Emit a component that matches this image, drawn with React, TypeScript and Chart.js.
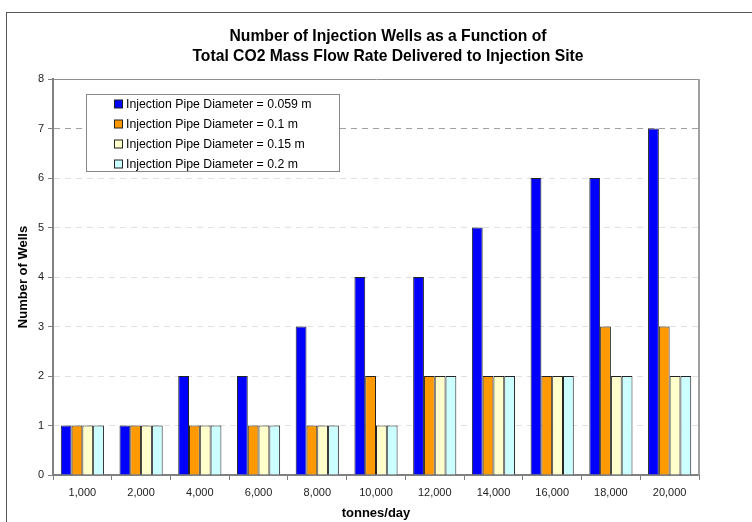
import React, { useEffect, useRef } from "react";
import { Chart, registerables } from "chart.js";

Chart.register(...registerables);

const categories = ["1,000", "2,000", "4,000", "6,000", "8,000", "10,000", "12,000", "14,000", "16,000", "18,000", "20,000"];
const seriesLabels = [
  "Injection Pipe Diameter = 0.059 m",
  "Injection Pipe Diameter = 0.1 m",
  "Injection Pipe Diameter = 0.15 m",
  "Injection Pipe Diameter = 0.2 m",
];
const d059 = [1, 1, 2, 2, 3, 4, 4, 5, 6, 6, 7];
const d010 = [1, 1, 1, 1, 1, 2, 2, 2, 2, 3, 3];
const d015 = [1, 1, 1, 1, 1, 1, 2, 2, 2, 2, 2];
const d020 = [1, 1, 1, 1, 1, 1, 2, 2, 2, 2, 2];
const seriesColors = ["#0000FF", "#FF9900", "#FFFFCC", "#CCFFFF"];
const titleLines = ["Number of Injection Wells as a Function of", "Total CO2 Mass Flow Rate Delivered to Injection Site"];
const yTitle = "Number of Wells";
const xTitle = "tonnes/day";

const FONT = "'Liberation Sans', Arial, sans-serif";

const framePlugin = {
  id: "frame",
  beforeDraw(chart: any) {
    const ctx = chart.ctx;
    ctx.save();
    ctx.strokeStyle = "#555";
    ctx.lineWidth = 1;
    ctx.strokeRect(6.5, 12.5, 900, 700);
    ctx.restore();
  },
  afterDraw(chart: any) {
    const { ctx, chartArea } = chart;
    ctx.save();
    // right border of plot area
    ctx.strokeStyle = "#A0A0A0";
    ctx.lineWidth = 2;
    ctx.beginPath();
    ctx.moveTo(chartArea.right, chartArea.top);
    ctx.lineTo(chartArea.right, chartArea.bottom);
    ctx.stroke();
    // legend box
    const lx = chartArea.left + 33.5;
    const ly = chartArea.top + 15.5;
    const lw = 253;
    const lh = 77;
    ctx.fillStyle = "#fff";
    ctx.fillRect(lx, ly, lw, lh);
    ctx.strokeStyle = "#888";
    ctx.lineWidth = 1;
    ctx.strokeRect(lx, ly, lw, lh);
    ctx.font = `12.3px ${FONT}`;
    ctx.textBaseline = "middle";
    ctx.textAlign = "left";
    chart.data.datasets.forEach((ds: any, i: number) => {
      const cy = chartArea.top + 25 + i * 20;
      ctx.fillStyle = ds.backgroundColor;
      ctx.fillRect(lx + 28, cy - 4, 8, 8);
      ctx.strokeStyle = "#222";
      ctx.strokeRect(lx + 28, cy - 4, 8, 8);
      ctx.fillStyle = "#000";
      ctx.fillText(ds.label, lx + 39.5, cy + 0.5);
    });
    ctx.restore();
  },
};

export default function App() {
  const ref = useRef<HTMLCanvasElement | null>(null);
  useEffect(() => {
    if (!ref.current) return;
    const data = [d059, d010, d015, d020];
    const chart = new Chart(ref.current, {
      type: "bar",
      data: {
        labels: categories,
        datasets: data.map((vals, i) => ({
          label: seriesLabels[i],
          data: vals,
          backgroundColor: seriesColors[i],
          borderColor: "#222",
          borderWidth: 1,
          categoryPercentage: 0.735,
          barPercentage: 1.0,
        })),
      },
      plugins: [framePlugin],
      options: {
        responsive: false,
        animation: false,
        devicePixelRatio: 1,
        layout: { padding: { left: 24, right: 0, top: 0, bottom: 0 } },
        plugins: {
          legend: { display: false },
          tooltip: { enabled: false },
          title: {
            display: true,
            text: titleLines,
            color: "#000",
            font: { family: FONT, size: 15.7, weight: "bold", lineHeight: "20px" },
            padding: { top: 27, bottom: 12 },
          },
        },
        scales: {
          x: {
            ticks: { color: "#222", font: { family: FONT, size: 11 }, padding: 6, maxRotation: 0 },
            grid: { display: true, drawOnChartArea: false, offset: true, tickLength: 5, tickColor: "#808080" },
            border: { color: "#808080", width: 2 },
            title: {
              display: true,
              text: xTitle,
              color: "#000",
              font: { family: FONT, size: 13, weight: "bold" },
              padding: { top: 0, bottom: 1 },
            },
            afterFit: (s: any) => {
              s.height = 47;
            },
          },
          y: {
            min: 0,
            max: 8,
            ticks: { stepSize: 1, color: "#222", font: { family: FONT, size: 11 }, padding: 4 },
            grid: {
              color: (c: any) => {
                const v = c.tick ? c.tick.value : -1;
                if (v === 8) return "#909090";
                if (v === 7) return "#A0A0A0";
                if (v === 0) return "rgba(0,0,0,0)";
                return "#E0E0E0";
              },
              tickColor: "#808080",
              tickLength: 5,
              tickBorderDash: [],
            },
            border: {
              color: "#808080",
              width: 2,
              dash: (c: any) => (c.tick && c.tick.value === 8 ? [] : [6, 5]),
            },
            title: {
              display: true,
              text: yTitle,
              color: "#000",
              font: { family: FONT, size: 13, weight: "bold" },
              padding: { top: -8.8, bottom: 0 },
            },
            afterFit: (s: any) => {
              s.width = 29;
            },
          },
          y2: {
            position: "right",
            display: true,
            ticks: { display: false },
            grid: { display: false },
            border: { display: false },
            afterFit: (s: any) => {
              s.width = 53;
            },
          },
        },
      } as any,
    });
    return () => chart.destroy();
  }, []);
  return (
    <div style={{ position: "fixed", left: 0, top: 0, width: 752, height: 522, background: "#fff" }}>
      <canvas ref={ref} width={752} height={522} style={{ display: "block" }} />
    </div>
  );
}
